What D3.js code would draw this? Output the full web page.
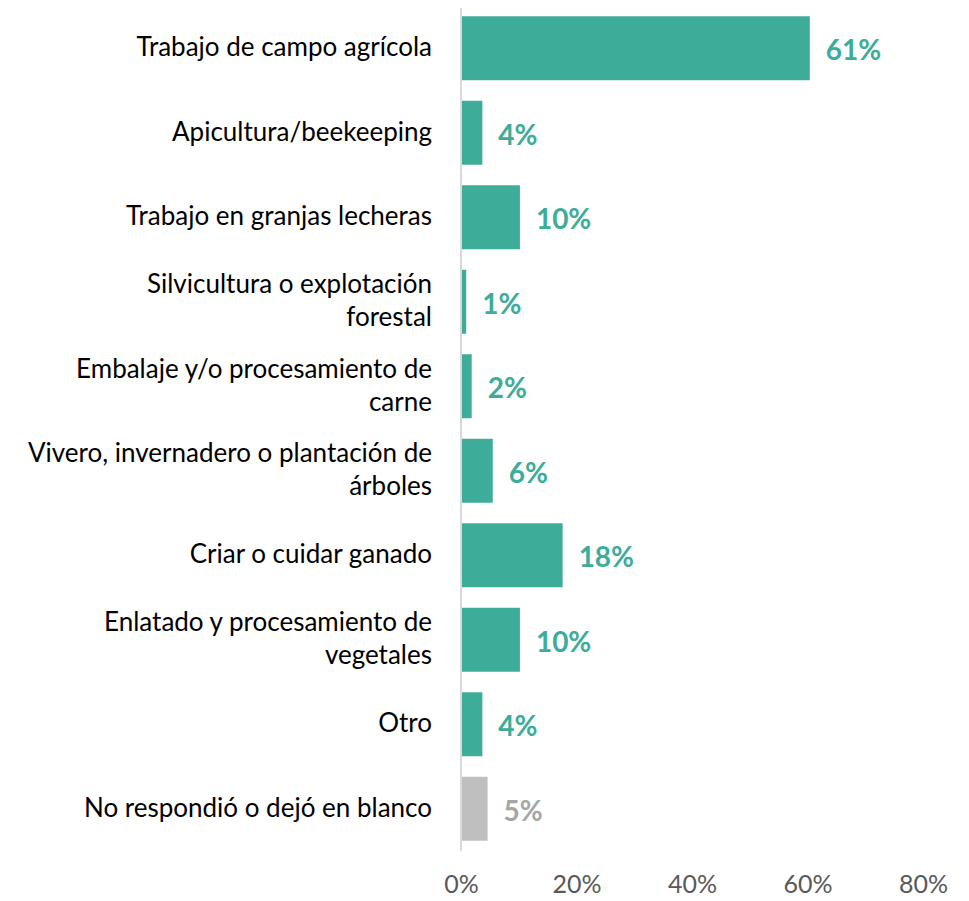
<!DOCTYPE html>
<html>
<head>
<meta charset="utf-8">
<script src="https://cdn.jsdelivr.net/npm/d3@7"></script>
<style>
  body { margin: 0; background: #fff; }
  svg { display: block; font-family: Lato, "Open Sans", sans-serif; }
</style>
</head>
<body>
<div id="chart"></div>
<script>
// categories (line breaks as in the original)
const categories = [
  "Trabajo de campo agrícola",
  "Apicultura/beekeeping",
  "Trabajo en granjas lecheras",
  "Silvicultura o explotación\nforestal",
  "Embalaje y/o procesamiento de\ncarne",
  "Vivero, invernadero o plantación de\nárboles",
  "Criar o cuidar ganado",
  "Enlatado y procesamiento de\nvegetales",
  "Otro",
  "No respondió o dejó en blanco"
];
const values = [60.4, 3.7, 10.2, 0.9, 1.85, 5.5, 17.6, 10.2, 3.7, 4.6];
const valueLabels = ["61%", "4%", "10%", "1%", "2%", "6%", "18%", "10%", "4%", "5%"];
const ticks = [0, 20, 40, 60, 80];

const width = 969, height = 901;
const teal = "#3dac99", grey = "#bfbfbf";

const svg = d3.select("#chart").append("svg")
  .attr("width", width)
  .attr("height", height);

const x = d3.scaleLinear()
  .domain([0, 80])
  .range([461, 923]);

const y = d3.scaleBand()
  .domain(categories)
  .range([6, 851])
  .paddingInner(0.243)
  .paddingOuter(0.1215);

const isLast = (d, i) => i === categories.length - 1;

// bars
svg.selectAll("rect.bar")
  .data(categories)
  .enter().append("rect")
  .attr("class", "bar")
  .attr("x", x(0))
  .attr("y", d => y(d))
  .attr("width", (d, i) => x(values[i]) - x(0))
  .attr("height", y.bandwidth())
  .attr("fill", (d, i) => isLast(d, i) ? grey : teal);

// axis line
svg.append("line")
  .attr("x1", x(0)).attr("x2", x(0))
  .attr("y1", 8).attr("y2", 851)
  .attr("stroke", "#d9d9d9")
  .attr("stroke-width", 2);

// value labels
svg.selectAll("text.val")
  .data(categories)
  .enter().append("text")
  .attr("class", "val")
  .attr("x", (d, i) => x(values[i]) + 16)
  .attr("y", d => y(d) + y.bandwidth() / 2 + 2)
  .attr("dy", "0.36em")
  .attr("font-size", 28)
  .attr("font-weight", "bold")
  .attr("fill", (d, i) => isLast(d, i) ? "#a6a6a6" : teal)
  .text((d, i) => valueLabels[i]);

// category labels
const lineH = 33;
const cat = svg.selectAll("text.cat")
  .data(categories)
  .enter().append("text")
  .attr("class", "cat")
  .attr("text-anchor", "end")
  .attr("font-size", 26)
  .attr("fill", "#000");

cat.each(function(d) {
  const lines = d.split("\n");
  const mid = y(d) + y.bandwidth() / 2;
  const top = mid - (lines.length - 1) * lineH / 2;
  d3.select(this).selectAll("tspan")
    .data(lines)
    .enter().append("tspan")
    .attr("x", 432)
    .attr("y", (l, j) => top + j * lineH)
    .attr("dy", "0.3em")
    .text(l => l);
});

// x axis tick labels
const xAxis = svg.append("g")
  .attr("transform", "translate(0, 870)")
  .call(d3.axisBottom(x).tickValues(ticks).tickFormat(d => d + "%").tickSize(0).tickPadding(0));
xAxis.select(".domain").remove();
xAxis.selectAll("text")
  .attr("font-family", "Lato, 'Open Sans', sans-serif")
  .attr("font-size", 25)
  .attr("fill", "#595959")
  .attr("dy", "0.9em");
</script>
</body>
</html>
